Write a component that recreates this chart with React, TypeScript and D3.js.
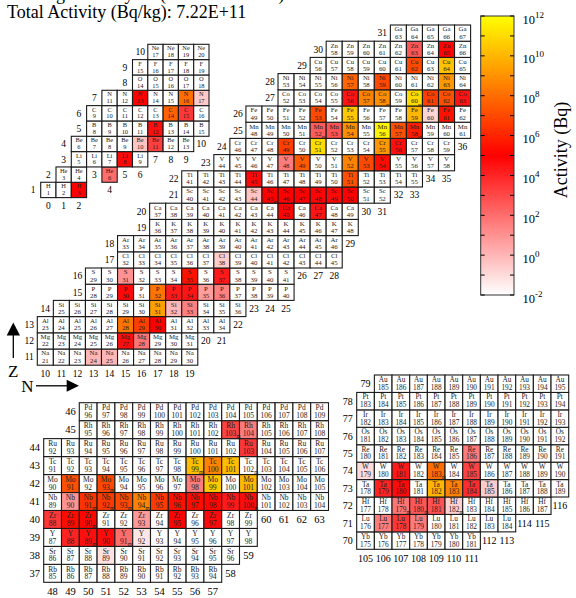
import React from 'react';
import * as d3 from 'd3';

// [Z, symbol, first A, last A]
type Row = [number, string, number, number];
// [symbol, A, activity in Bq]
type Act = [string, number, number];

const ROWS_LIGHT: Row[] = [
  [1, 'H', 1, 3], [2, 'He', 3, 4], [2, 'He', 6, 6], [3, 'Li', 5, 9], [4, 'Be', 6, 13],
  [5, 'B', 8, 15], [6, 'C', 9, 16], [7, 'N', 11, 17], [8, 'O', 14, 18], [9, 'F', 15, 19],
  [10, 'Ne', 17, 20],
];

const ROWS_MID: Row[] = [
  [11, 'Na', 21, 30], [12, 'Mg', 22, 31], [13, 'Al', 23, 34], [14, 'Si', 25, 36],
  [15, 'P', 28, 40], [16, 'S', 29, 41], [17, 'Cl', 32, 45], [18, 'Ar', 33, 46],
  [19, 'K', 36, 48], [20, 'Ca', 37, 49], [21, 'Sc', 40, 52], [22, 'Ti', 41, 55],
  [23, 'V', 44, 58], [24, 'Cr', 46, 59], [25, 'Mn', 48, 61], [26, 'Fe', 49, 62],
  [27, 'Co', 52, 63], [28, 'Ni', 53, 64], [29, 'Cu', 56, 65], [30, 'Zn', 58, 66],
  [31, 'Ga', 63, 67],
];

const ROWS_ZR: Row[] = [
  [37, 'Rb', 85, 94], [38, 'Sr', 86, 96], [39, 'Y', 87, 98], [40, 'Zr', 88, 99],
  [41, 'Nb', 89, 104], [42, 'Mo', 90, 105], [43, 'Tc', 91, 106], [44, 'Ru', 92, 107],
  [45, 'Rh', 95, 108], [46, 'Pd', 96, 109],
];

const ROWS_HF: Row[] = [
  [70, 'Yb', 175, 181], [71, 'Lu', 176, 184], [72, 'Hf', 177, 187], [73, 'Ta', 178, 189],
  [74, 'W', 179, 190], [75, 'Re', 180, 191], [76, 'Os', 181, 192], [77, 'Ir', 182, 193],
  [78, 'Pt', 183, 194], [79, 'Au', 185, 195],
];

const ACT_LIGHT: Act[] = [
  ['H', 3, 1e5], ['He', 6, 100], ['Li', 8, 6e4], ['Be', 10, 0.4], ['Be', 11, 2e3],
  ['B', 12, 4e4], ['C', 14, 5e7], ['C', 15, 3e3], ['N', 13, 1e5], ['N', 16, 1e8], ['N', 17, 0.3],
];

const ACT_MID: Act[] = [
  ['Na', 24, 1], ['Na', 25, 1], ['Mg', 27, 4e4], ['Mg', 28, 60],
  ['Al', 28, 1.5e8], ['Al', 29, 5e6], ['Al', 30, 1e5],
  ['Si', 31, 2.5e9], ['Si', 32, 1], ['Si', 33, 30],
  ['P', 30, 6e4], ['P', 32, 1.5e8], ['P', 33, 2e4], ['P', 34, 3e4], ['P', 35, 5], ['P', 36, 30],
  ['S', 31, 10], ['S', 35, 3e5], ['S', 37, 2e4], ['Cl', 38, 0.25],
  ['Ca', 45, 8e4], ['Ca', 47, 3e4],
  ['Sc', 44, 0.4], ['Sc', 45, 1e5], ['Sc', 46, 1e5], ['Sc', 47, 1e5], ['Sc', 48, 8e4], ['Sc', 49, 6e4], ['Sc', 50, 1e5],
  ['Ti', 45, 6e4], ['Ti', 51, 1.5e7],
  ['V', 48, 40], ['V', 49, 3e7], ['V', 52, 4e8], ['V', 53, 1e7], ['V', 54, 2e5],
  ['Cr', 49, 5e6], ['Cr', 51, 1e11], ['Cr', 55, 1.5e9], ['Cr', 56, 4e4],
  ['Mn', 52, 300], ['Mn', 53, 500], ['Mn', 54, 8e8], ['Mn', 56, 5e11], ['Mn', 57, 1.5e7], ['Mn', 58, 6e5],
  ['Fe', 53, 1e7], ['Fe', 55, 3e10], ['Fe', 59, 1e10], ['Fe', 60, 0.15], ['Fe', 61, 3e5],
  ['Co', 56, 3e4], ['Co', 57, 4e8], ['Co', 58, 8e8], ['Co', 60, 1e11], ['Co', 61, 5e6], ['Co', 62, 1.5e7], ['Co', 63, 3e4],
  ['Ni', 57, 6e7], ['Ni', 59, 1e7], ['Ni', 63, 1.5e9],
  ['Cu', 62, 1e7], ['Cu', 64, 2e10],
  ['Zn', 63, 400], ['Zn', 65, 8e4],
];

const ACT_ZR: Act[] = [
  ['Sr', 89, 0.06],
  ['Y', 88, 1e4], ['Y', 89, 4e4], ['Y', 90, 5e4], ['Y', 91, 100], ['Y', 92, 0.05],
  ['Zr', 88, 3e3], ['Zr', 89, 2e5], ['Zr', 90, 1.5e5], ['Zr', 93, 6], ['Zr', 95, 8e4], ['Zr', 97, 5e4],
  ['Nb', 90, 10], ['Nb', 91, 2.5e6], ['Nb', 92, 4e6], ['Nb', 93, 1e7], ['Nb', 94, 4e8], ['Nb', 95, 4e6],
  ['Nb', 96, 3e5], ['Nb', 97, 2e5], ['Nb', 98, 1.5e5], ['Nb', 99, 2e4], ['Nb', 100, 5e4],
  ['Mo', 91, 1.5e7], ['Mo', 93, 1e7], ['Mo', 98, 40], ['Mo', 99, 3e10], ['Mo', 101, 1.2e10],
  ['Tc', 99, 1.5e10], ['Tc', 100, 4e8], ['Tc', 101, 1.5e10],
  ['Ru', 103, 3e3], ['Rh', 103, 1.5e3], ['Rh', 104, 40],
];

const ACT_HF: Act[] = [
  ['Lu', 177, 40], ['Lu', 178, 3e3], ['Lu', 179, 40],
  ['Hf', 179, 60], ['Hf', 180, 400], ['Hf', 181, 600], ['Hf', 182, 0.2],
  ['Ta', 179, 1e4], ['Ta', 180, 5e4], ['Ta', 182, 1e10], ['Ta', 183, 4e8], ['Ta', 184, 6e3], ['Ta', 185, 0.25],
  ['W', 179, 0.1], ['W', 181, 2e4], ['W', 183, 1e8], ['W', 185, 1.5e3],
  ['Re', 186, 40],
];

// isomeric states, drawn with a small "m"
const ISOMERS: [string, number][] = [
  ['Sc', 45], ['Mn', 52], ['Mn', 58], ['Co', 58], ['Co', 60], ['Y', 89], ['Y', 91], ['Zr', 90],
  ['Nb', 91], ['Nb', 92], ['Nb', 93], ['Nb', 94], ['Nb', 100], ['Mo', 93], ['Tc', 99], ['Tc', 102],
  ['Rh', 103], ['Hf', 179], ['Hf', 180], ['Hf', 182], ['W', 183],
];

const CB_EXPONENTS = d3.range(-2, 13);

const FONT = "'Liberation Serif', 'Times New Roman', serif";

const color = d3.scaleLog<string>()
  .domain([1e-2, 1e5, 1e12])
  .range(['#ffffff', '#ff0000', '#ffff00'])
  .clamp(true);

interface Panel {
  rows: Row[];
  acts: Act[];
  nDom: [number, number];
  xRange: [number, number];
  zDom: [number, number];
  yRange: [number, number];
  labelSize: number;
}

const PANELS: Panel[] = [
  { rows: ROWS_LIGHT, acts: ACT_LIGHT, nDom: [0, 11], xRange: [40.7, 209.0], zDom: [0, 10], yRange: [197.6, 44.3], labelSize: 9.5 },
  { rows: ROWS_MID, acts: ACT_MID, nDom: [10, 37], xRange: [37.3, 470.6], zDom: [10, 31], yRange: [365.2, 25], labelSize: 9.5 },
  { rows: ROWS_ZR, acts: ACT_ZR, nDom: [48, 64], xRange: [43.7, 328.5], zDom: [36, 46], yRange: [582.3, 402.7], labelSize: 10.5 },
  { rows: ROWS_HF, acts: ACT_HF, nDom: [105, 117], xRange: [356.7, 568.7], zDom: [69, 79], yRange: [549.3, 375], labelSize: 10 },
];

const isoSet = new Set(ISOMERS.map(([s, a]) => `${s}${a}`));

const NuclidePanel: React.FC<{ p: Panel }> = ({ p }) => {
  const x = d3.scaleLinear().domain(p.nDom).range(p.xRange);
  const y = d3.scaleLinear().domain(p.zDom).range(p.yRange);
  const cw = x(p.nDom[0] + 1) - x(p.nDom[0]);
  const ch = y(p.zDom[0]) - y(p.zDom[0] + 1);
  const act = new Map(p.acts.map(([s, a, v]) => [`${s}${a}`, v]));

  const cells: { z: number; n: number; sym: string; a: number; v?: number }[] = [];
  p.rows.forEach(([z, sym, a0, a1]) => {
    for (let a = a0; a <= a1; a++) {
      cells.push({ z, n: a - z, sym, a, v: act.get(`${sym}${a}`) });
    }
  });

  const colMin = d3.rollup(cells, v => d3.min(v, c => c.z)!, c => c.n);
  const rowMin = d3.rollup(cells, v => d3.min(v, c => c.n)!, c => c.z);
  const fs = ch * 0.42;

  return (
    <g>
      {cells.map(c => (
        <rect key={`r${c.sym}${c.a}`} x={x(c.n)} y={y(c.z)} width={cw} height={ch}
          fill={c.v !== undefined ? color(c.v) : '#ffffff'} stroke="#1a1a1a" strokeWidth={1.1} />
      ))}
      {cells.map(c => {
        const cx = x(c.n) + cw / 2;
        const top = y(c.z);
        const numW = String(c.a).length * 0.5 * fs;
        return (
          <g key={`t${c.sym}${c.a}`} fill="#222" fontSize={fs} textAnchor="middle">
            <text x={cx} y={top + ch * 0.4}>{c.sym}</text>
            <text x={cx} y={top + ch * 0.84}>{c.a}</text>
            {isoSet.has(`${c.sym}${c.a}`) && (
              <text x={cx + numW / 2 + 0.2} y={top + ch * 0.97} fontSize={fs * 0.7} textAnchor="start">m</text>
            )}
          </g>
        );
      })}
      {Array.from(colMin, ([n, z]) => (
        <text key={`n${n}`} x={x(n) + cw / 2} y={y(z - 1) + ch / 2 + p.labelSize * 0.35}
          fontSize={p.labelSize} textAnchor="middle" fill="#000">{n}</text>
      ))}
      {Array.from(rowMin, ([z, n]) => (
        <text key={`z${z}`} x={x(n - 1) + cw / 2} y={y(z) + ch / 2 + p.labelSize * 0.35}
          fontSize={p.labelSize} textAnchor="middle" fill="#000">{z}</text>
      ))}
    </g>
  );
};

const ColorBar: React.FC = () => {
  const x0 = 480.7;
  const x1 = 514;
  const cy = d3.scaleLog().domain([1e-2, 1e12]).range([295, 16]);
  const stops = d3.range(0, 29).map(i => 10 ** (-2 + (14 * i) / 28));
  return (
    <g>
      <defs>
        <linearGradient id="cbGrad" x1="0" y1="1" x2="0" y2="0">
          {stops.map((v, i) => (
            <stop key={i} offset={i / 28} stopColor={color(v)} />
          ))}
        </linearGradient>
      </defs>
      <rect x={x0} y={16} width={x1 - x0} height={279} fill="url(#cbGrad)" stroke="#333" strokeWidth={1} />
      {CB_EXPONENTS.map(e => {
        const ty = cy(10 ** e);
        return (
          <g key={e}>
            <line x1={x0} x2={x0 + 4} y1={ty} y2={ty} stroke="#000" strokeWidth={1} />
            <line x1={x1 - 4} x2={x1} y1={ty} y2={ty} stroke="#000" strokeWidth={1} />
            {e % 2 === 0 && (
              <text x={522.5} y={ty + 7.5} fontSize={12.5} fill="#000">
                10<tspan dy={-6} fontSize={9}>{e}</tspan>
              </text>
            )}
          </g>
        );
      })}
      <text transform="translate(567,150) rotate(-90)" textAnchor="middle" fontSize={18} fill="#000">
        Activity (Bq)
      </text>
    </g>
  );
};

export default function App() {
  return (
    <svg width={576} height={598} viewBox="0 0 576 598"
      style={{ position: 'absolute', left: 0, top: 0, background: '#fff' }}
      fontFamily={FONT}>
      <text x={7} y={-0.5} fontSize={18} fill="#000">Cooling time: 1 year (after irradiation)</text>
      <text x={7} y={18.3} fontSize={18} fill="#000">Total Activity (Bq/kg): 7.22E+11</text>

      {PANELS.map((p, i) => <NuclidePanel key={i} p={p} />)}

      {/* direction arrows */}
      <line x1={13.3} y1={358} x2={13.3} y2={334} stroke="#000" strokeWidth={1.3} />
      <polygon points="6.7,335.5 20,335.5 13.3,322.5" fill="#000" />
      <text x={13.3} y={376.7} fontSize={17} textAnchor="middle">Z</text>
      <text x={27.5} y={391.7} fontSize={17} textAnchor="middle">N</text>
      <line x1={36} y1={385.8} x2={68} y2={385.8} stroke="#000" strokeWidth={1.3} />
      <polygon points="66.7,379.8 66.7,391.8 79,385.8" fill="#000" />

      <ColorBar />
    </svg>
  );
}
